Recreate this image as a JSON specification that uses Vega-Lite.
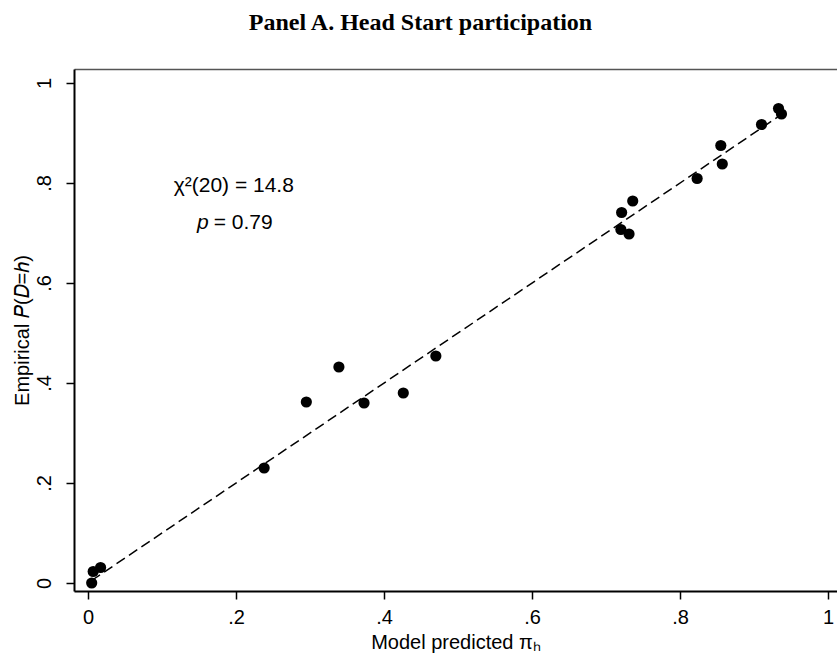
{
  "$schema": "https://vega.github.io/schema/vega-lite/v6.json",
  "width": 763,
  "height": 522,
  "autosize": {"type": "none"},
  "padding": {"left": 74, "top": 69, "right": 0, "bottom": 70},
  "background": "white",
  "config": {
    "view": {"stroke": null},
    "font": "Liberation Sans",
    "axis": {"grid": false, "domainColor": "black", "tickColor": "black", "labelColor": "black", "titleColor": "black", "labelFont": "Liberation Sans", "titleFont": "Liberation Sans", "titleFontWeight": "normal"}
  },
  "title": {"text": "Panel A. Head Start participation", "font": "Liberation Serif", "fontSize": 24, "fontWeight": "bold", "color": "black", "anchor": "middle", "dx": -35, "offset": 34},
  "datasets": {
    "pts": [
      {"pred": 0.005, "emp": 0.0},
      {"pred": 0.007, "emp": 0.023},
      {"pred": 0.017, "emp": 0.031},
      {"pred": 0.238, "emp": 0.23},
      {"pred": 0.295, "emp": 0.362},
      {"pred": 0.339, "emp": 0.432},
      {"pred": 0.373, "emp": 0.36},
      {"pred": 0.426, "emp": 0.38},
      {"pred": 0.47, "emp": 0.454},
      {"pred": 0.72, "emp": 0.707},
      {"pred": 0.721, "emp": 0.741},
      {"pred": 0.731, "emp": 0.698},
      {"pred": 0.736, "emp": 0.764},
      {"pred": 0.823, "emp": 0.809},
      {"pred": 0.855, "emp": 0.875},
      {"pred": 0.857, "emp": 0.838},
      {"pred": 0.91, "emp": 0.917},
      {"pred": 0.933, "emp": 0.949},
      {"pred": 0.937, "emp": 0.938}
    ],
    "fit": [
      {"pred": 0.005, "emp": 0.005},
      {"pred": 0.94, "emp": 0.94}
    ],
    "ann": [
      {"pred": 0.197, "emp": 0.794, "label": "χ²(20) = 14.8"}
    ],
    "annp": [
      {"pred": 0.163, "emp": 0.72, "label": "p"}
    ],
    "annv": [
      {"pred": 0.163, "emp": 0.72, "label": "= 0.79"}
    ]
  },
  "resolve": {"axis": {"x": "independent"}},
  "layer": [
    {
      "data": {"name": "pts"},
      "mark": {"type": "point", "filled": true, "shape": "circle", "size": 125, "color": "black", "opacity": 1},
      "encoding": {
        "x": {"field": "pred", "type": "quantitative", "scale": {"domain": [-0.0189, 1.012], "nice": false, "zero": false},
          "axis": {"orient": "bottom", "values": [0, 0.2, 0.4, 0.6, 0.8, 1], "labelExpr": "datum.value == 0 ? '0' : datum.value == 1 ? '1' : replace(format(datum.value, '.1f'), '0.', '.')", "labelFontSize": 20, "tickSize": 8, "labelPadding": 8, "domainWidth": 2, "tickWidth": 1.5, "title": "Model predicted πₕ", "titleFontSize": 20, "titlePadding": 5, "labelFlush": false}},
        "y": {"field": "emp", "type": "quantitative", "scale": {"domain": [-0.016, 1.028], "nice": false, "zero": false},
          "axis": {"orient": "left", "values": [0, 0.2, 0.4, 0.6, 0.8, 1], "labelExpr": "datum.value == 0 ? '0' : datum.value == 1 ? '1' : replace(format(datum.value, '.1f'), '0.', '.')", "labelFontSize": 20, "labelAngle": -90, "labelAlign": "center", "labelBaseline": "bottom", "tickSize": 8, "labelPadding": 12, "domainWidth": 2, "tickWidth": 1.5, "title": "Empirical 𝑃(𝐷=ℎ)", "titleFontSize": 20, "titlePadding": 2, "labelFlush": false}}
      }
    },
    {
      "data": {"name": "fit"},
      "mark": {"type": "line", "color": "black", "strokeWidth": 1.5, "strokeDash": [10, 5]},
      "encoding": {
        "x": {"field": "pred", "type": "quantitative", "axis": {"orient": "top", "labels": false, "ticks": false, "title": null, "domainColor": "#555555", "domainWidth": 1.5}},
        "y": {"field": "emp", "type": "quantitative"}
      }
    },
    {
      "data": {"name": "ann"},
      "mark": {"type": "text", "fontSize": 21, "align": "center", "baseline": "middle", "color": "black"},
      "encoding": {
        "x": {"field": "pred", "type": "quantitative", "axis": null},
        "y": {"field": "emp", "type": "quantitative"},
        "text": {"field": "label"}
      }
    },
    {
      "data": {"name": "annp"},
      "mark": {"type": "text", "fontSize": 21, "fontStyle": "italic", "align": "right", "baseline": "middle", "color": "black"},
      "encoding": {
        "x": {"field": "pred", "type": "quantitative", "axis": null},
        "y": {"field": "emp", "type": "quantitative"},
        "text": {"field": "label"}
      }
    },
    {
      "data": {"name": "annv"},
      "mark": {"type": "text", "fontSize": 21, "align": "left", "baseline": "middle", "color": "black", "dx": 5},
      "encoding": {
        "x": {"field": "pred", "type": "quantitative", "axis": null},
        "y": {"field": "emp", "type": "quantitative"},
        "text": {"field": "label"}
      }
    }
  ]
}
